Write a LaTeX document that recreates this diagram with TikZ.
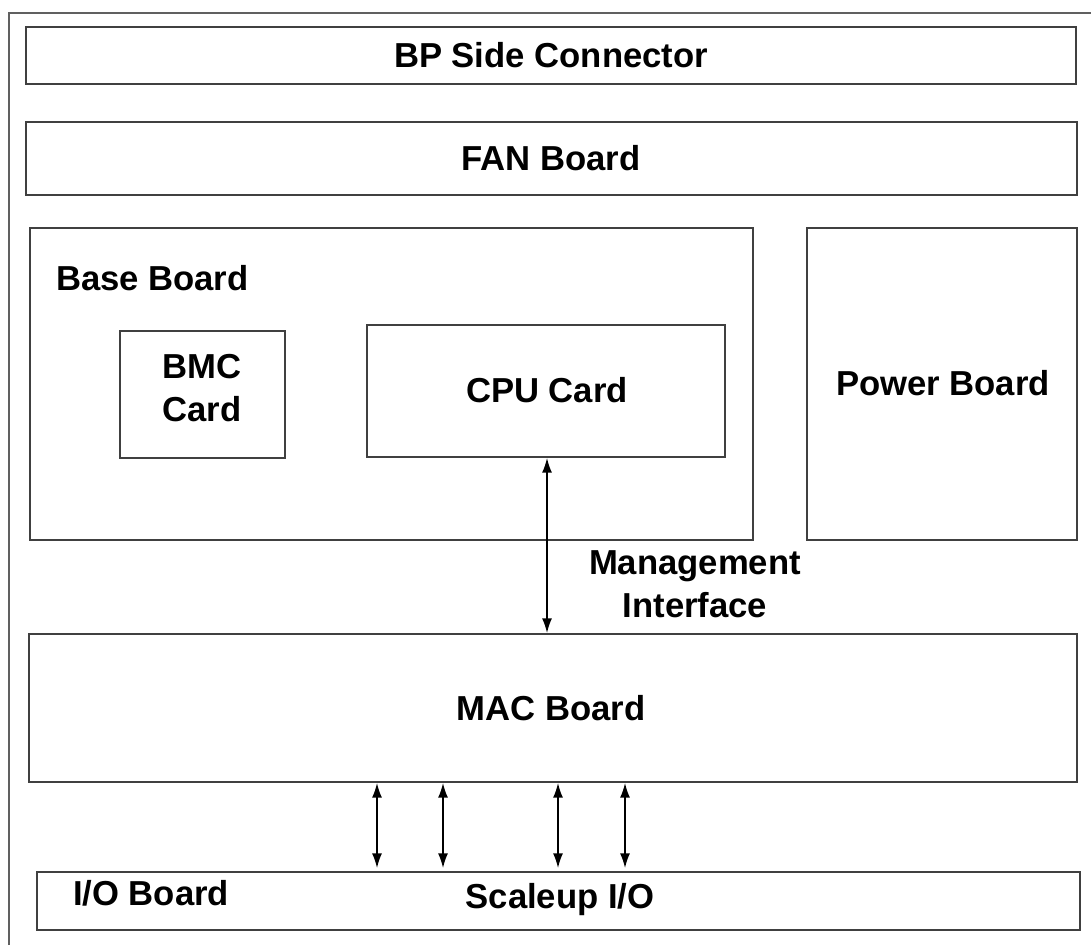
\documentclass[tikz,border=0pt]{standalone}
\usepackage{fontspec}
\setmainfont{Liberation Sans}
\usetikzlibrary{arrows.meta,fit}

\tikzset{every picture/.style={line width=1.5pt}}
\tikzset{
  board/.style={draw={rgb,255:red,64;green,64;blue,64}, inner sep=0pt, fit={#1}},
  lbl/.style={font=\fontsize{26}{32}\selectfont\bfseries, align=center, inner sep=0pt},
  link/.style={line width=1.1pt, {Latex[length=11pt,width=7.5pt]}-{Latex[length=11pt,width=7.5pt]}}
}

\begin{document}
\begin{tikzpicture}[x=0.75pt,y=0.75pt,yscale=-1,xscale=1]
\useasboundingbox (0,0) rectangle (1091,945);

%Outer frame
\draw [draw={rgb,255:red,96;green,96;blue,96}] (9,945) -- (9,13) -- (1091,13) ;

%Boards
\node [board={(26,27) (1076,84)}] (bp) {};
\node [board={(26,122) (1077,195)}] (fan) {};
\node [board={(30,228) (753,540)}] (base) {};
\node [board={(120,331) (285,458)}] (bmc) {};
\node [board={(367,325) (725,457)}] (cpu) {};
\node [board={(807,228) (1077,540)}] (power) {};
\node [board={(29,634) (1077,782)}] (mac) {};
\node [board={(37,872) (1080,930)}] (io) {};

% Text Node
\draw (551,55) node [lbl] (bptxt) {BP Side Connector};
% Text Node
\draw (551,158) node [lbl] (fantxt) {FAN Board};
% Text Node
\draw (55,278) node [lbl, anchor=west] (basetxt) {Base Board};
% Text Node
\draw (202,388) node [lbl] (bmctxt) {BMC\\Card};
% Text Node
\draw (547,390) node [lbl] (cputxt) {CPU Card};
% Text Node
\draw (943,383) node [lbl] (powertxt) {Power Board};
% Text Node
\draw (695,584) node [lbl] (mgmttxt) {Management\\Interface};
% Text Node
\draw (551,708) node [lbl] (mactxt) {MAC Board};
% Text Node
\draw (72,893) node [lbl, anchor=west] (iotxt) {I/O Board};
% Text Node
\draw (560,900) node [lbl] (scaletxt) {Scaleup I/O};

%Management link
\draw [link] (cpu.south -| 547,0) -- (mac.north -| 547,0) ;

%Scaleup links
\foreach \x in {377,443,558,625}
  \draw [link] (mac.south -| \x,0) -- (\x,868) ;

\end{tikzpicture}
\end{document}
